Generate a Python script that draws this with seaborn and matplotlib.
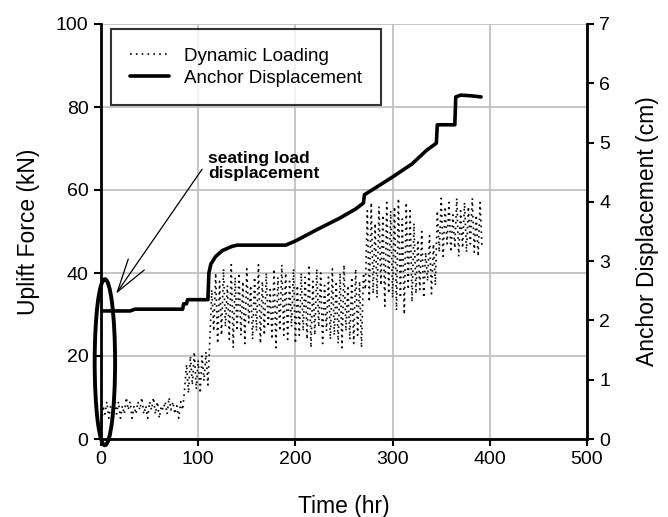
import numpy as np
import pandas as pd
import matplotlib
matplotlib.use("Agg")
import matplotlib.pyplot as plt
import seaborn as sns
from matplotlib.patches import Ellipse

# ---------------- data ----------------
# Dynamic loading (kN), sampled every 2 hr from t = 0
load_stage_a = [0, 8, 6, 9, 5, 8, 7, 10, 6, 9, 5, 8, 6, 10, 7, 9, 5, 8, 6, 9, 7, 10,
                6, 8, 5, 9, 7, 10, 6, 9, 5, 8, 7, 9, 6, 10, 7, 9, 6, 8, 5, 9, 7]
load_stage_b = [12, 18, 11, 20, 13, 21, 12, 19, 11, 20, 14, 21, 13]
stage_c_lows = [24, 26, 23, 25, 27, 24, 22, 26, 25, 23, 28, 24, 26, 23, 25, 27, 24, 22, 26, 25,
                24, 27, 23, 25, 26, 24, 22, 25, 27, 23, 26, 24, 25, 23, 22, 26, 24, 23, 25, 22]
stage_c_highs = [36, 40, 38, 41, 37, 42, 39, 40, 38, 41, 37, 39, 42, 38, 40, 36, 41, 39, 42, 40,
                 38, 41, 37, 40, 39, 42, 38, 41, 40, 37, 39, 41, 38, 40, 42, 37, 39, 41, 38, 40]
load_stage_d = [36, 55, 33, 57, 35, 52, 34, 56, 37, 54, 32, 57, 35, 55, 34]
load_stage_e = [56, 31, 58, 34, 53, 30, 57, 36, 55, 33, 52, 35]
load_stage_f = [48, 36, 50, 34, 45, 38, 49, 35, 47, 37]
load_stage_g = [55, 45, 58, 44, 56, 47, 57, 45, 54, 46, 58, 44, 55, 46, 57, 45, 56, 47,
                58, 45, 54, 44, 57, 46]

# Anchor displacement (cm)
anchor_time = [1, 30, 35, 84, 85, 88, 89, 110, 111, 113, 118, 125, 135, 140, 190, 200, 222,
               245, 262, 270, 271, 274, 300, 320, 335, 345, 346, 364, 365, 370, 380, 391]
anchor_cm = [2.16, 2.16, 2.19, 2.19, 2.28, 2.28, 2.35, 2.35, 2.80, 2.95, 3.08, 3.18, 3.25,
             3.27, 3.27, 3.34, 3.53, 3.72, 3.88, 3.98, 4.12, 4.15, 4.42, 4.64, 4.87, 4.99,
             5.30, 5.30, 5.77, 5.80, 5.79, 5.77]

x_ticks = [0, 100, 200, 300, 400, 500]
y_left_ticks = [0, 20, 40, 60, 80, 100]
y_right_ticks = [0, 1, 2, 3, 4, 5, 6, 7]

stage_c = [v for pair in zip(stage_c_lows, stage_c_highs) for v in pair]
load = load_stage_a + load_stage_b + stage_c + load_stage_d + load_stage_e + load_stage_f + load_stage_g
time_dyn = np.arange(len(load)) * 2.0

dyn_df = pd.DataFrame({"Time": time_dyn, "Load": load})
anc_df = pd.DataFrame({"Time": anchor_time, "Disp": anchor_cm})

# ---------------- plot ----------------
sns.set_theme(style="white")
plt.rcParams["font.family"] = ["Liberation Sans", "DejaVu Sans"]
plt.rcParams["text.color"] = "black"
plt.rcParams["axes.labelcolor"] = "black"

fig = plt.figure(figsize=(6.68, 5.17), dpi=100)
ax = fig.add_axes([101/668, 1-439/517, (587-101)/668, (439-24)/517])
ax2 = ax.twinx()

grid_c = "#c0c0c0"
for xv in x_ticks:
    ax.axvline(xv, color=grid_c, lw=1.3, zorder=0)
for yv in y_left_ticks:
    ax.axhline(yv, color=grid_c, lw=1.3, zorder=0)

sns.lineplot(data=dyn_df, x="Time", y="Load", ax=ax, color="black", lw=1.2,
             linestyle=(0, (1, 2.5)), label="Dynamic Loading", legend=False, zorder=2)
sns.lineplot(data=anc_df, x="Time", y="Disp", ax=ax2, color="black", lw=2.6,
             label="Anchor Displacement", legend=False, zorder=3)

ax.set_xlim(0, 500)
ax.set_ylim(0, 100)
ax2.set_ylim(0, 7)
ax.set_xticks(x_ticks)
ax.set_yticks(y_left_ticks)
ax2.set_yticks(y_right_ticks)

for a in (ax, ax2):
    for s in a.spines.values():
        s.set_visible(False)
ax.spines["left"].set_visible(True)
ax.spines["bottom"].set_visible(True)
ax2.spines["right"].set_visible(True)
for s in (ax.spines["left"], ax.spines["bottom"], ax2.spines["right"]):
    s.set_color("black")
    s.set_linewidth(2.0)

ax.tick_params(axis="both", direction="out", length=5, width=1.5, colors="black",
               labelsize=14, pad=4, left=True, bottom=True)
ax2.tick_params(axis="y", direction="out", length=5, width=1.5, colors="black",
                labelsize=14, pad=4, right=True)

ax.set_xlabel("Time (hr)", fontsize=16.5)
ax.set_ylabel("Uplift Force (kN)", fontsize=16.5)
ax2.set_ylabel("Anchor Displacement (cm)", fontsize=16.5)
ax.xaxis.set_label_coords(0.5, (439-495)/415)
ax.yaxis.set_label_coords((40-101)/486, 0.5)
ax2.yaxis.set_label_coords((636-101)/486, 0.5)

# ellipse around seating load
ell = Ellipse((4, 18.5), width=21, height=40, fill=False, edgecolor="black", lw=2.8,
              zorder=4, clip_on=False)
ax.add_patch(ell)

ax.annotate("", xy=(15.5, 35), xytext=(104, 65),
            arrowprops=dict(arrowstyle="->,head_length=2.4,head_width=0.7", color="black",
                            lw=0.9, shrinkA=0, shrinkB=0, mutation_scale=10), zorder=5)
ax.text(110, 69.5, "seating load\ndisplacement", fontsize=12.5, fontweight="bold",
        va="top", ha="left", linespacing=1.0, zorder=5)

h1, l1 = ax.get_legend_handles_labels()
h2, l2 = ax2.get_legend_handles_labels()
leg = ax2.legend(h1 + h2, l1 + l2, loc="upper left", bbox_to_anchor=(10/486, (439-29)/415),
                 fontsize=13.5, frameon=True, fancybox=False, borderpad=1.0,
                 handlelength=2.1, handletextpad=0.8, labelspacing=0.25, borderaxespad=0)
leg.get_frame().set_edgecolor("black")
leg.get_frame().set_linewidth(1.5)
leg.set_zorder(10)

fig.savefig("out.png", dpi=100, facecolor="white")
